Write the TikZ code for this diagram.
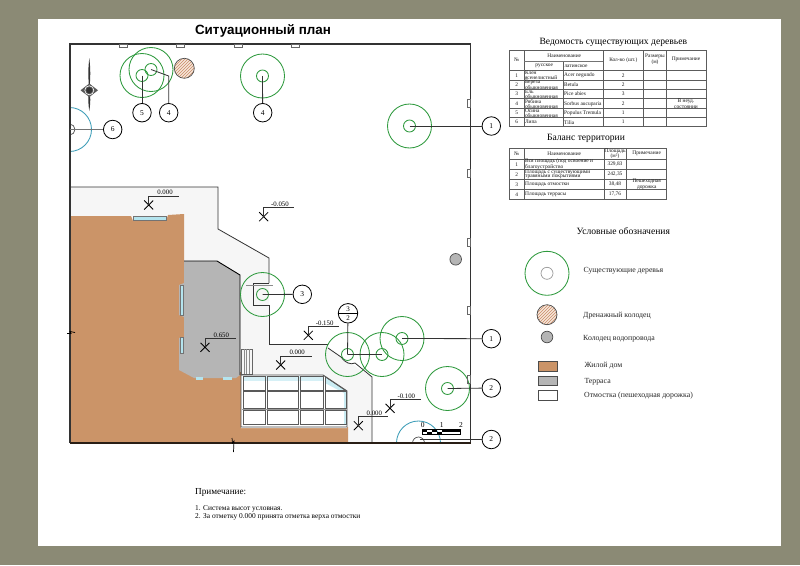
\documentclass[tikz,border=0pt]{standalone}
\usepackage{fontspec}
\setmainfont{Liberation Serif}
\newfontfamily\titlefont{Liberation Sans}
\usepackage{tikz}
\usetikzlibrary{patterns}

\definecolor{SheetBack}{HTML}{8B8A75}
\definecolor{HouseBrown}{HTML}{CB9468}
\definecolor{TerraceGray}{HTML}{B5B5B5}
\definecolor{PathWhite}{HTML}{F6F6F6}
\definecolor{CrownGreen}{HTML}{2F9A3E}
\definecolor{CrownBlue}{HTML}{3D9DB8}
\definecolor{GlassBlue}{HTML}{B4E4EE}
\definecolor{DrainFill}{HTML}{F6E6DA}
\definecolor{DrainLine}{HTML}{C98A66}
\definecolor{LineDark}{HTML}{333333}

\tikzset{
	crown/.style={draw=CrownGreen, line width=0.85pt},
	crownblue/.style={draw=CrownBlue, line width=0.85pt},
	leader/.style={draw=LineDark, line width=0.8pt},
	outline/.style={draw=LineDark, line width=0.8pt},
	tag/.style={circle, draw=black, fill=white, line width=0.8pt, minimum size=18.5pt, inner sep=0pt, font=\fontsize{7.5}{8}\selectfont},
	lvl/.style={font=\fontsize{6.8}{7}\selectfont, inner sep=0pt},
	grid/.style={draw=LineDark!80, line width=0.7pt},
	cell/.style={font=\fontsize{5.4}{4.8}\selectfont, align=center, inner sep=0pt, text=black!90},
	cellleft/.style={cell, anchor=west, align=left},
	heading/.style={font=\fontsize{9.6}{11}\selectfont, inner sep=0pt},
	legendtext/.style={font=\fontsize{7.8}{9}\selectfont, anchor=west, inner sep=0pt, text=black!85},
	swatch/.style={draw=black!70, line width=0.6pt},
	drainwell/.style={draw=black!70, line width=0.7pt, preaction={fill=DrainFill}, pattern=north east lines, pattern color=DrainLine},
	waterwell/.style={draw=black!70, fill=TerraceGray, line width=0.7pt},
	windowglass/.style={fill=GlassBlue, draw=black!55, line width=0.4pt},
}

\begin{document}
\begin{tikzpicture}[x=1pt, y=-1pt]
	\useasboundingbox (0,0) rectangle (800,565);
	\fill[SheetBack] (0,0) rectangle (800,565);
	\fill[white] (38,19) rectangle (781,546);

	\node[font=\titlefont\bfseries\fontsize{13.4}{15}\selectfont, inner sep=0pt] (title) at (263,31) {Ситуационный план};

	% site
	\fill[PathWhite] (70,187) -- (218,187) -- (218,229) -- (269,258) -- (269,344) -- (328,344) -- (328,348) -- (350,363) -- (372,377) -- (372,443) -- (70,443) -- cycle;
	\fill[HouseBrown] (70,216) -- (131,216) -- (133,221) -- (166,221) -- (168,215) -- (184,214) -- (184,372) -- (241,372) -- (241,427) -- (348,427) -- (348,443) -- (70,443) -- cycle;
	\fill[TerraceGray] (184,261) -- (217,261) -- (240,275) -- (240,375) -- (236,378) -- (194,378) -- (179,370) -- (179,338) -- (184,337) -- (184,317) -- (179,315) -- (179,285) -- (184,283) -- cycle;
	\draw[black, line width=0.9pt] (184,261) -- (217,261) -- (240,275) -- (240,375);
	\draw[windowglass] (133,216.5) rectangle (166,220.5);
	\draw[windowglass] (180,285) rectangle (183.5,315);
	\draw[windowglass] (180,337) rectangle (183.5,353);
	\fill[GlassBlue] (196,377) rectangle (203,380);
	\fill[GlassBlue] (223,377) rectangle (232,380);

	\draw[outline] (70,187) -- (218,187) -- (218,229) -- (269,258) -- (269,283);
	\draw[outline] (269,283) -- (253.5,283) -- (253.5,305.5) -- (269,305.5) -- (269,344) -- (328,344);
	\draw[outline] (328,348) -- (341,357) .. controls (345,363) and (351,365) .. (355,363) -- (372,377) -- (372,443);
	\draw[black!45, line width=0.7pt] (246,285) -- (273,285);

	% steps
	\draw[grid, black!60] (241,349) rectangle (252,374);
	\foreach \x in {244,246.5,249} {
		\draw[black!45, line width=0.5pt] (\x,349) -- (\x,374);
	}

	% garden cells
	\fill[white] (241,375) -- (323,375) -- (347,391) -- (347,428) -- (241,428) -- cycle;
	\fill[GlassBlue!55] (243,376) rectangle (323,381);
	\fill[GlassBlue!70] (325,377) -- (346,391) -- (346,424) -- (344,424) -- (344,393) -- (325,383) -- cycle;
	\draw[grid, black!70, line width=0.9pt] (241,375) -- (323,375) -- (347,391) -- (347,427) -- (241,427) -- cycle;
	\foreach \xa/\xb in {243/265,267.5/298.5,300.5/323.5} {
		\draw[grid, black!65] (\xa,376) rectangle (\xb,390.5);
	}
	\draw[grid, black!65] (325.5,377) -- (345.5,390.5) -- (325.5,390.5) -- cycle;
	\foreach \xa/\xb in {243/265,267.5/298.5,300.5/323.5,325.5/346} {
		\draw[grid, black!65] (\xa,391.5) rectangle (\xb,408.5);
		\draw[grid, black!65] (\xa,410) rectangle (\xb,424.5);
	}
	\draw[black!40, line width=1.2pt] (242,409.2) -- (346,409.2);

	% trees
	\foreach \nm/\x/\y in {treeA/142/75.5, treeB/151/69.5, treeC/262.5/76, treeD/409.5/126, treeE/262.5/294.5, treeF/347.5/354.5, treeG/382/354.5, treeH/402/338.5, treeI/447.5/388.5} {
		\coordinate (\nm) at (\x,\y);
		\draw[crown] (\nm) circle (22);
		\draw[crown] (\nm) circle (6);
	}
	\begin{scope}
		\clip (70,44) rectangle (470,443);
		\coordinate (treeJ) at (69.5,129.5);
		\draw[crownblue] (treeJ) circle (22);
		\draw[black!70, line width=0.7pt] (treeJ) circle (5.5);
		\coordinate (treeK) at (418.5,443);
		\draw[crownblue] (treeK) circle (22);
		\draw[black!70, line width=0.7pt] (treeK) circle (6);
	\end{scope}
	\draw[drainwell] (184.3,68.3) circle (10);
	\draw[waterwell] (455.7,259.3) circle (5.8);

	% frame
	\draw[LineDark, line width=1.3pt] (470.5,44) -- (70,44) -- (70,443);
	\draw[LineDark, line width=1.3pt] (470.5,44) -- (470.5,443);
	\draw[black!80!HouseBrown, line width=1.5pt] (70,443) -- (470.5,443);
	\foreach \x in {123,180,238,295} {
		\draw[black!60, line width=0.5pt] (\x-4,44.5) rectangle (\x+4,47.5);
	}
	\foreach \y in {103,173,242,310,379} {
		\draw[black!60, line width=0.5pt] (467.5,\y-4) rectangle (470,\y+4);
	}
	% breaks
	\draw[black, line width=0.7pt] (67,333.5) -- (71,333.5) -- (70,331.5) -- (75,332.5);
	\draw[black, line width=0.7pt] (232,438) -- (232.5,443) -- (234,441) -- (233.5,452);

	% north sign
	\coordinate (north) at (89.3,90.3);
	\fill[black!80] (89.3,58) .. controls (90.6,70) and (90.6,76) .. (north) .. controls (88,76) and (88,70) .. (89.3,58);
	\fill[black!80] (89.3,111) .. controls (90.6,102) and (90.6,96) .. (north) .. controls (88,96) and (88,102) .. (89.3,111);
	\fill[black!65] (80.5,90.3) -- (89.3,83.5) -- (98,90.3) -- (89.3,97) -- cycle;
	\draw[white, line width=0.6pt] (north) circle (4.5);
	\fill[black!80] (north) circle (3);

	% tags
	\node[tag] (tagA) at (142,112.7) {5};
	\node[tag] (tagB) at (168.7,112.7) {4};
	\node[tag] (tagC) at (262.7,112.7) {4};
	\node[tag] (tagJ) at (112.7,129.5) {6};
	\node[tag] (tagD) at (491.3,126) {1};
	\node[tag] (tagE) at (302.3,294.3) {3};
	\node[tag] (tagH) at (491.3,338.7) {1};
	\node[tag] (tagI) at (491.3,388) {2};
	\node[tag] (tagK) at (491.3,439.5) {2};
	\node[tag, align=center, font=\fontsize{7}{9.2}\selectfont, minimum size=19.5pt] (tagF) at (348,313.3) {3\\2};
	\coordinate (elbowB) at (168.7,76);
	\coordinate (kneeK) at (420,439.5);
	\draw[line width=0.7pt] (tagF.west) -- (tagF.east);
	\draw[leader] (treeA) -- (tagA);
	\draw[leader] (treeB) -- (elbowB) -- (tagB);
	\draw[leader] (treeC) -- (tagC);
	\draw[black!55, line width=1pt] (treeJ) -- (tagJ);
	\draw[leader] (treeD) -- (tagD);
	\draw[leader] (treeE) -- (tagE);
	\draw[leader] (treeF) -- (tagF);
	\draw[leader] (treeF) -- (treeG);
	\draw[leader] (treeH) -- (tagH);
	\draw[leader] (treeI) -- (tagI);
	\draw[leader] (kneeK) -- (tagK);

	% levels
	\foreach \nm/\x/\y/\lx/\txt in {lvlA/148.7/205/179.3/0.000, lvlB/263.7/216.7/294.3/-0.050, lvlC/205/347.3/235.7/0.650, lvlD/280.7/365/311.7/0.000, lvlE/308.3/335.3/339/-0.150, lvlF/390/408.3/420.7/-0.100, lvlG/358.3/425.7/388.3/0.000} {
		\draw[black, line width=0.8pt] (\x-4.5,\y-4.5) -- (\x+4.5,\y+4.5) (\x-4.5,\y+4.5) -- (\x+4.5,\y-4.5);
		\draw[black!80, line width=0.6pt] (\x,\y) -- (\x,\y-9) -- (\lx,\y-9);
		\node[lvl] (\nm) at ({(\x+\lx)/2+1},\y-12.3) {\txt};
	}

	% scale
	\foreach \x/\t in {422.7/0, 441.7/1, 461/2} {
		\node[font=\fontsize{7.5}{8}\selectfont, inner sep=0pt] (sc\t) at (\x,425.5) {\t};
	}
	\draw[black, line width=0.5pt] (422.5,429.5) rectangle (460.5,434.5);
	\fill[black] (422.5,429.5) rectangle (427,432);
	\fill[black] (427,432) rectangle (432,434.5);
	\fill[black] (432,429.5) rectangle (437,432);
	\fill[black] (437,432) rectangle (441.7,434.5);
	\fill[black] (441.7,429.5) rectangle (460.5,432);

	% first table
	\node[heading] (treesHead) at (613.3,42.3) {Ведомость существующих деревьев};
	\draw[grid] (509,50.7) rectangle (706.7,126.7);
	\foreach \x in {524.3,603.3,643.3,666.7} {
		\draw[grid] (\x,50.7) -- (\x,126.7);
	}
	\draw[grid] (563.3,61.7) -- (563.3,126.7);
	\draw[grid, black!55, line width=1pt] (524.3,61.7) -- (603.3,61.7);
	\foreach \y in {70.7,80,89.3,98.7,108.7,117.7} {
		\draw[grid] (509,\y) -- (706.7,\y);
	}
	\node[cell] (hNo) at (516.7,60) {№};
	\node[cell] (hName) at (564.3,55.3) {Наименование};
	\node[cell] (hRu) at (544.3,66) {русское};
	\node[cell] (hLa) at (576,66) {латинское};
	\node[cell] (hQty) at (623.3,60) {Кол-во (шт.)};
	\node[cell, font=\fontsize{5.4}{5.8}\selectfont] (hSize) at (655,59.3) {Размеры\\(м)};
	\node[cell] (hNote) at (686,59.3) {Примечание};
	\foreach \i/\y/\ru/\la/\q in {1/75.4/Клен\\ясенелистный/Acer negundo/2, 2/84.7/Береза\\обыкновенная/Betula/2, 3/94/Ель\\обыкновенная/Pice abies/3, 4/103.7/Рябина\\обыкновенная/Sorbus aucuparia/2, 5/113.2/Осина\\обыкновенная/Populus Tremula/1, 6/122.2/Липа/Tilia/1} {
		\node[cell] (no\i) at (516.7,\y) {\i};
		\node[cellleft] (ru\i) at (524.8,\y) {\ru};
		\node[cellleft] (la\i) at (564,\y) {\la};
		\node[cell] (qty\i) at (623.3,\y) {\q};
	}
	\node[cell, font=\fontsize{5.4}{5.8}\selectfont] (note4) at (686,103.7) {В неуд.\\состоянии};

	% second table
	\node[heading] (areaHead) at (586,138.3) {Баланс территории};
	\draw[grid] (509,148.3) rectangle (666.7,199.3);
	\foreach \x in {524.3,604,626.7} {
		\draw[grid] (\x,148.3) -- (\x,199.3);
	}
	\foreach \y in {159.3,169.3,179.3,189.3} {
		\draw[grid] (509,\y) -- (666.7,\y);
	}
	\node[cell] (bNo) at (516.7,153.8) {№};
	\node[cell] (bName) at (564.3,153.8) {Наименование};
	\node[cell] (bArea) at (615,153.8) {Площадь\\(м²)};
	\node[cell] (bNote) at (646.7,153.8) {Примечание};
	\foreach \i/\y/\nm/\v in {1/164.3/Вся площадь (под освоение и\\благоустройство/{329,83}, 2/174.3/Площадь с существующими\\травяными покрытиями/{242,35}, 3/184.3/Площадь отмостки/{38,48}, 4/194.3/Площадь террасы/{17,76}} {
		\node[cell] (bn\i) at (516.7,\y) {\i};
		\node[cellleft] (bt\i) at (525,\y) {\nm};
		\node[cell] (bv\i) at (615,\y) {\v};
	}
	\node[cell, font=\fontsize{5.4}{5.8}\selectfont] (bnote3) at (646.7,184) {Пешеходная\\дорожка};

	% legend
	\node[heading] (legendHead) at (623.3,231) {Условные обозначения};
	\draw[crown] (547,273.3) circle (22);
	\draw[black!40, line width=0.7pt] (547,273.3) circle (6);
	\draw[drainwell] (547,314.7) circle (10);
	\draw[waterwell] (547,337) circle (5.8);
	\draw[swatch, fill=HouseBrown] (538.3,361.7) rectangle (557.7,371.7);
	\draw[swatch, fill=TerraceGray] (538.3,376) rectangle (557.7,385.7);
	\draw[swatch, fill=white] (538.3,390.3) rectangle (557.7,400);
	\node[legendtext] (legA) at (583.3,271) {Существующие деревья};
	\node[legendtext] (legB) at (583,316) {Дренажный колодец};
	\node[legendtext] (legC) at (583,338.7) {Колодец водопровода};
	\node[legendtext] (legD) at (584.3,365.3) {Жилой дом};
	\node[legendtext] (legE) at (584.3,381.3) {Терраса};
	\node[legendtext] (legF) at (584,395.3) {Отмостка (пешеходная дорожка)};

	% notes
	\node[font=\fontsize{9.2}{10}\selectfont, anchor=west, inner sep=0pt] (noteHead) at (195,492.3) {Примечание:};
	\node[font=\fontsize{7.4}{8}\selectfont, anchor=west, inner sep=0pt] (noteOne) at (195,509) {1. Система высот условная.};
	\node[font=\fontsize{7.4}{8}\selectfont, anchor=west, inner sep=0pt] (noteTwo) at (195,516.7) {2. За отметку 0.000 принята отметка верха отмостки};
\end{tikzpicture}
\end{document}
